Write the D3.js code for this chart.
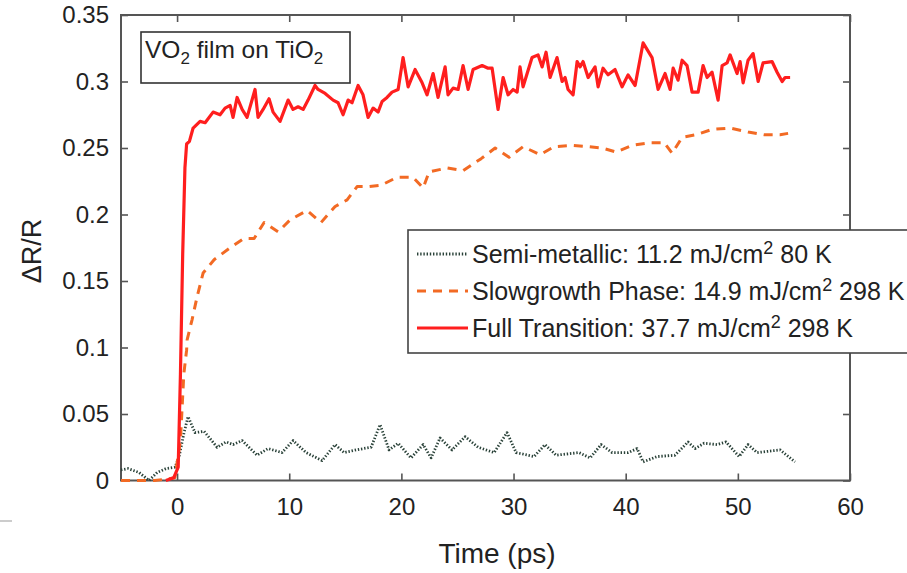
<!DOCTYPE html>
<html>
<head>
<meta charset="utf-8">
<script src="https://cdn.jsdelivr.net/npm/d3@7"></script>
<style>
  html, body { margin: 0; padding: 0; background: #fff; }
  svg { display: block; }
  text { font-family: "Liberation Sans", Arial, sans-serif; fill: #222; }
</style>
</head>
<body>
<svg id="chart" width="907" height="573"></svg>
<script>
// ---------------- data ----------------
const xTicks = [0, 10, 20, 30, 40, 50, 60];
const yTicks = [0, 0.05, 0.1, 0.15, 0.2, 0.25, 0.3, 0.35];
const yTickLabels = ["0", "0.05", "0.1", "0.15", "0.2", "0.25", "0.3", "0.35"];

// Semi-metallic: 11.2 mJ/cm2 80 K
const semiT = [-5, -4.37, -3.39, -2.5, -1.78, -0.98, -0.18, 0.18, 0.62, 0.98, 1.6, 2.41, 3.57, 4.37, 4.99, 5.8, 7.13, 8.11, 9.36, 10.34, 11.5, 12.93, 14.09, 14.89, 15.96, 17.3, 18.1, 18.9, 19.71, 20.86, 21.94, 22.65, 23.45, 24.52, 25.68, 26.84, 28.27, 29.42, 30.23, 31.83, 32.81, 33.79, 35.84, 36.83, 37.81, 38.79, 40.22, 41.02, 41.55, 42.8, 44.38, 45.56, 46.19, 46.99, 48.15, 48.95, 50.11, 50.91, 51.72, 53.77, 55.1];
const semiV = [0.008, 0.009, 0.006, 0.0, 0.006, 0.009, 0.010, 0.018, 0.036, 0.048, 0.036, 0.037, 0.025, 0.029, 0.027, 0.030, 0.019, 0.024, 0.021, 0.030, 0.021, 0.015, 0.027, 0.021, 0.023, 0.025, 0.042, 0.023, 0.028, 0.017, 0.027, 0.017, 0.032, 0.023, 0.033, 0.025, 0.021, 0.036, 0.021, 0.018, 0.027, 0.019, 0.021, 0.017, 0.027, 0.021, 0.021, 0.024, 0.014, 0.018, 0.019, 0.029, 0.024, 0.028, 0.027, 0.029, 0.018, 0.027, 0.021, 0.023, 0.014];

// Slowgrowth Phase: 14.9 mJ/cm2 298 K
const slowT = [-5, -4, -3, -2, -1, -0.2, 0.3, 0.6, 0.85, 0.9, 1.34, 1.78, 2.32, 3.3, 4.73, 5.97, 6.87, 7.76, 9.01, 10.08, 11.59, 12.84, 14.09, 15.16, 16.05, 17.12, 18.19, 19.62, 21.04, 21.94, 22.47, 24.08, 25.5, 27.11, 28.36, 29.6, 30.85, 32.37, 33.62, 35.22, 36.65, 37.9, 39.15, 40.58, 42.18, 43.43, 44.14, 45.03, 46.28, 47.71, 49.31, 50.92, 52.34, 53.77, 54.48];
const slowV = [0, 0, 0, 0, 0.001, 0.002, 0.03, 0.08, 0.098, 0.106, 0.121, 0.138, 0.156, 0.166, 0.175, 0.182, 0.182, 0.194, 0.187, 0.196, 0.203, 0.194, 0.206, 0.211, 0.221, 0.221, 0.222, 0.228, 0.228, 0.220, 0.232, 0.235, 0.233, 0.242, 0.250, 0.243, 0.251, 0.245, 0.251, 0.252, 0.251, 0.250, 0.247, 0.252, 0.254, 0.254, 0.246, 0.258, 0.260, 0.264, 0.265, 0.262, 0.260, 0.260, 0.261];

// Full Transition: 37.7 mJ/cm2 298 K
const fullT = [-1, -0.3, 0.1, 0.3, 0.5, 0.7, 0.85, 1.1, 1.43, 2.05, 2.5, 3.21, 3.83, 4.28, 4.73, 4.99, 5.35, 5.8, 6.24, 6.95, 7.22, 7.67, 8.2, 8.56, 9.18, 9.9, 10.34, 10.79, 11.24, 11.68, 12.3, 12.57, 13.2, 13.91, 14.36, 14.8, 15.25, 15.6, 16.14, 16.58, 17.03, 17.48, 17.92, 18.28, 18.72, 19.17, 19.71, 20.15, 20.6, 21.22, 21.85, 22.29, 22.83, 23.27, 23.9, 24.16, 24.61, 25.06, 25.5, 25.95, 26.39, 27.2, 27.73, 28.09, 28.62, 29.07, 29.51, 29.96, 30.32, 30.58, 30.85, 31.65, 32.19, 32.55, 32.9, 33.26, 33.88, 34.33, 34.6, 34.86, 35.31, 35.67, 35.93, 36.2, 36.65, 37.27, 37.54, 37.98, 38.43, 39.05, 39.68, 40.21, 40.84, 41.55, 42.35, 42.89, 43.51, 43.96, 44.23, 44.67, 45.03, 45.47, 45.92, 46.46, 46.9, 47.26, 47.7, 48.24, 48.6, 49.04, 49.31, 49.93, 50.2, 50.47, 50.91, 51.36, 51.81, 52.25, 53.05, 53.5, 53.95, 54.21, 54.66];
const fullV = [0, 0.002, 0.01, 0.08, 0.17, 0.235, 0.253, 0.255, 0.265, 0.270, 0.269, 0.277, 0.275, 0.280, 0.282, 0.273, 0.288, 0.279, 0.273, 0.294, 0.273, 0.279, 0.287, 0.277, 0.270, 0.286, 0.279, 0.281, 0.279, 0.286, 0.297, 0.294, 0.291, 0.286, 0.284, 0.275, 0.286, 0.284, 0.297, 0.290, 0.273, 0.280, 0.277, 0.285, 0.288, 0.292, 0.294, 0.318, 0.296, 0.309, 0.299, 0.290, 0.306, 0.288, 0.311, 0.290, 0.295, 0.294, 0.312, 0.294, 0.309, 0.312, 0.310, 0.310, 0.279, 0.303, 0.290, 0.294, 0.292, 0.311, 0.296, 0.318, 0.320, 0.311, 0.322, 0.303, 0.318, 0.300, 0.303, 0.294, 0.290, 0.315, 0.311, 0.315, 0.303, 0.311, 0.296, 0.310, 0.305, 0.309, 0.296, 0.305, 0.297, 0.329, 0.318, 0.294, 0.306, 0.294, 0.310, 0.301, 0.316, 0.312, 0.292, 0.292, 0.312, 0.303, 0.307, 0.286, 0.312, 0.314, 0.320, 0.306, 0.315, 0.299, 0.316, 0.321, 0.300, 0.314, 0.315, 0.307, 0.300, 0.303, 0.303];

const seriesNames = ["Semi-metallic: 11.2 mJ/cm", "Slowgrowth Phase: 14.9 mJ/cm", "Full Transition: 37.7 mJ/cm"];
const seriesSuffix = ["80 K", "298 K", "298 K"];

// ---------------- drawing ----------------
const svg = d3.select("#chart");
const L = 121, R = 850, T = 15, B = 480.5;
const x = d3.scaleLinear().domain([-5, 60]).range([L, R]);
const y = d3.scaleLinear().domain([0, 0.35]).range([B, T]);

const axisColor = "#555";

// axes (inward ticks on all four sides)
const gx = svg.append("g").attr("transform", `translate(0,${B})`)
  .call(d3.axisBottom(x).tickValues(xTicks).tickSizeInner(-7).tickSizeOuter(0).tickPadding(17).tickFormat(d3.format("d")));
const gxt = svg.append("g").attr("transform", `translate(0,${T})`)
  .call(d3.axisTop(x).tickValues(xTicks).tickSizeInner(-7).tickSizeOuter(0).tickFormat(""));
const gy = svg.append("g").attr("transform", `translate(${L},0)`)
  .call(d3.axisLeft(y).tickValues(yTicks).tickSizeInner(-7).tickSizeOuter(0).tickPadding(12).tickFormat((d, i) => yTickLabels[i]));
const gyr = svg.append("g").attr("transform", `translate(${R},0)`)
  .call(d3.axisRight(y).tickValues(yTicks).tickSizeInner(-7).tickSizeOuter(0).tickFormat(""));

[gx, gxt, gy, gyr].forEach(g => {
  g.select(".domain").remove();
  g.selectAll(".tick line").attr("stroke", axisColor).attr("stroke-width", 1.6);
  g.selectAll(".tick text").attr("font-size", 24).attr("fill", "#222")
    .attr("font-family", "'Liberation Sans', Arial, sans-serif");
});

svg.append("rect").attr("x", L).attr("y", T).attr("width", R - L).attr("height", B - T)
  .attr("fill", "none").attr("stroke", axisColor).attr("stroke-width", 2);

// lines
const line = d3.line().x(d => x(d[0])).y(d => y(d[1]));
const semi = semiT.map((t, i) => [t, semiV[i]]);
const slow = slowT.map((t, i) => [t, slowV[i]]);
const full = fullT.map((t, i) => [t, fullV[i]]);

const styles = [
  { color: "#2a4239", width: 2.8, dash: "1.4,1.8" },
  { color: "#f26a24", width: 3, dash: "9,7" },
  { color: "#ff1e1e", width: 3.2, dash: null }
];

[semi, slow, full].forEach((d, i) => {
  svg.append("path").datum(d).attr("d", line).attr("fill", "none")
    .attr("stroke", styles[i].color).attr("stroke-width", styles[i].width)
    .attr("stroke-dasharray", styles[i].dash).attr("stroke-linejoin", "round");
});

// annotation box
svg.append("rect").attr("x", 141).attr("y", 32).attr("width", 209).attr("height", 51)
  .attr("fill", "#fff").attr("stroke", "#333").attr("stroke-width", 1.6);
const ann = svg.append("text").attr("x", 145).attr("y", 58).attr("font-size", 24.5);
ann.append("tspan").text("VO");
ann.append("tspan").attr("font-size", 17).attr("dy", 6).text("2");
ann.append("tspan").attr("dy", -6).text(" film on TiO");
ann.append("tspan").attr("font-size", 17).attr("dy", 6).text("2");

// legend
svg.append("rect").attr("x", 408).attr("y", 230).attr("width", 520).attr("height", 123)
  .attr("fill", "#fff").attr("stroke", "#444").attr("stroke-width", 1.6);
const rowsY = [263, 300, 337];
seriesNames.forEach((name, i) => {
  svg.append("line").attr("x1", 417).attr("x2", 468)
    .attr("y1", rowsY[i] - 9).attr("y2", rowsY[i] - 9)
    .attr("stroke", styles[i].color).attr("stroke-width", styles[i].width)
    .attr("stroke-dasharray", styles[i].dash);
  const t = svg.append("text").attr("x", 472).attr("y", rowsY[i]).attr("font-size", 25);
  t.append("tspan").text(name);
  t.append("tspan").attr("font-size", 18).attr("dy", -9).text("2");
  t.append("tspan").attr("dy", 9).text(" " + seriesSuffix[i]);
});

// axis labels
svg.append("text").attr("x", 497).attr("y", 563).attr("text-anchor", "middle")
  .attr("font-size", 28).text("Time (ps)");
svg.append("text").attr("transform", "translate(41,251) rotate(-90)")
  .attr("text-anchor", "middle").attr("font-size", 27).text("ΔR/R");

// small crop artifact at left edge
svg.append("line").attr("x1", 0).attr("x2", 12).attr("y1", 521).attr("y2", 521)
  .attr("stroke", "#bbb").attr("stroke-width", 1.5);
</script>
</body>
</html>
